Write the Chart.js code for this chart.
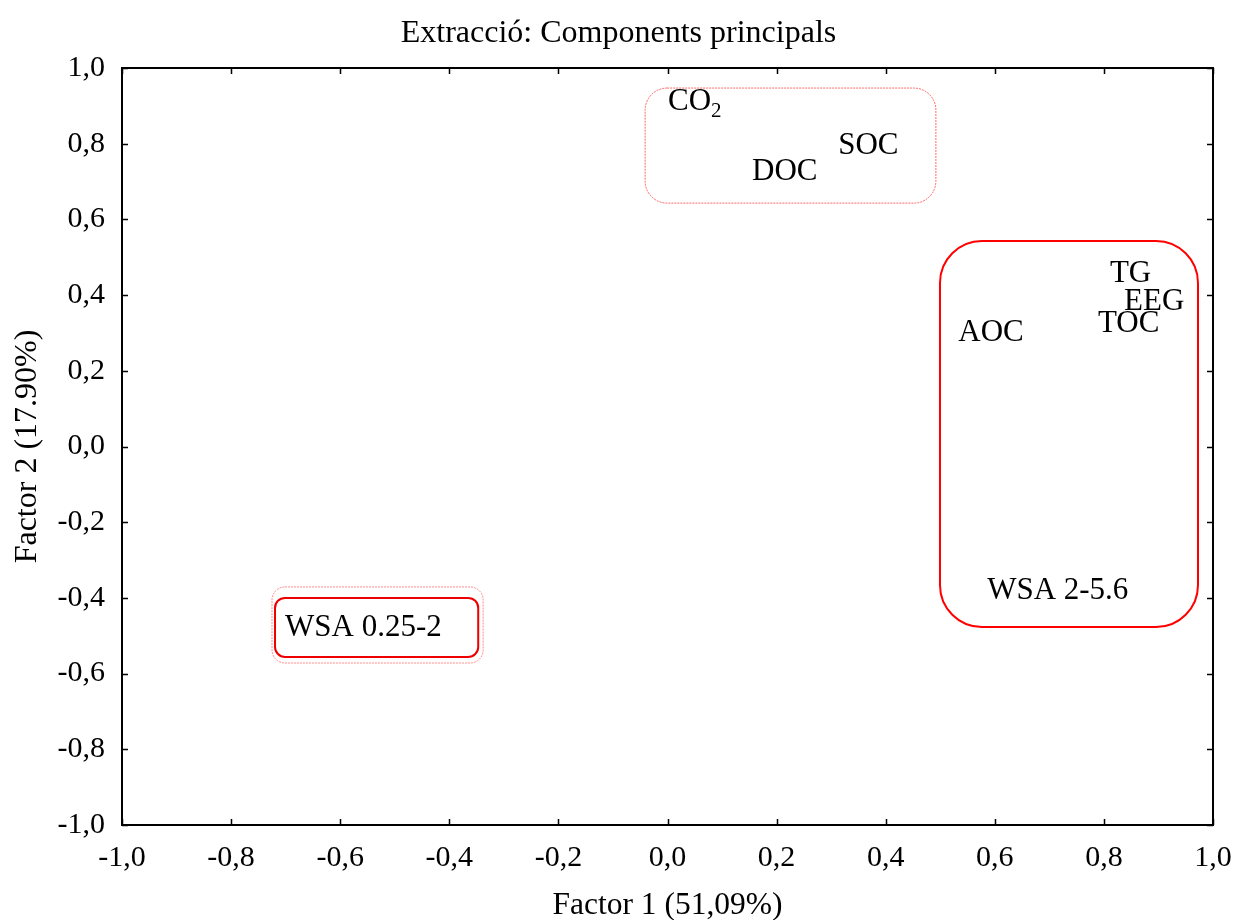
<!DOCTYPE html>
<html>
<head>
<meta charset="utf-8">
<script src="https://cdn.jsdelivr.net/npm/chart.js@4/dist/chart.umd.min.js"></script>
<style>
  html, body { margin: 0; padding: 0; background: #ffffff; }
  #wrap { width: 1237px; height: 920px; }
</style>
</head>
<body>
<div id="wrap"><canvas id="c" width="1237" height="920"></canvas></div>
<script>
// ---- data ----
const labels = ['CO', 'DOC', 'SOC', 'TG', 'EEG', 'TOC', 'AOC', 'WSA 2-5.6', 'WSA 0.25-2'];
const labelSubs = ['2', '', '', '', '', '', '', '', ''];
const factor1 = [0.001, 0.155, 0.313, 0.811, 0.837, 0.789, 0.533, 0.586, -0.701];
const factor2 = [0.910, 0.725, 0.794, 0.456, 0.382, 0.324, 0.300, -0.382, -0.480];
const tickValues = [-1.0, -0.8, -0.6, -0.4, -0.2, 0.0, 0.2, 0.4, 0.6, 0.8, 1.0];
const titleText = 'Extracció: Components principals';
const xTitle = 'Factor 1 (51,09%)';
const yTitle = 'Factor 2 (17.90%)';
// group boxes in data units: [xMin, xMax, yMin, yMax]
const boxTop = [-0.041, 0.492, 0.643, 0.947];
const boxRight = [0.4995, 0.9725, -0.477, 0.543];
const boxLeftInner = [-0.7195, -0.347, -0.556, -0.400];
const boxLeftOuter = [-0.725, -0.338, -0.572, -0.371];

const FONT = "'Liberation Serif', 'Times New Roman', serif";
const fmt = v => { const s = Math.abs(v).toFixed(1).replace('.', ','); return (v < -1e-9 ? '-' : '') + s; };

function roundRect(ctx, x, y, w, h, r) {
  r = Math.min(r, w / 2, h / 2);
  ctx.beginPath();
  ctx.moveTo(x + r, y);
  ctx.lineTo(x + w - r, y);
  ctx.arcTo(x + w, y, x + w, y + r, r);
  ctx.lineTo(x + w, y + h - r);
  ctx.arcTo(x + w, y + h, x + w - r, y + h, r);
  ctx.lineTo(x + r, y + h);
  ctx.arcTo(x, y + h, x, y + h - r, r);
  ctx.lineTo(x, y + r);
  ctx.arcTo(x, y, x + r, y, r);
  ctx.closePath();
}

const decor = {
  id: 'decor',
  afterDatasetsDraw(chart) {
    const ctx = chart.ctx, xs = chart.scales.x, ys = chart.scales.y, a = chart.chartArea;
    ctx.save();
    const drawBox = (b, color, lw, r, dash) => {
      const x1 = xs.getPixelForValue(b[0]), x2 = xs.getPixelForValue(b[1]);
      const y1 = ys.getPixelForValue(b[3]), y2 = ys.getPixelForValue(b[2]);
      ctx.strokeStyle = color; ctx.lineWidth = lw;
      ctx.setLineDash(dash || []);
      roundRect(ctx, x1, y1, x2 - x1, y2 - y1, r);
      ctx.stroke();
    };
    drawBox(boxTop, 'rgba(255,80,80,0.85)', 1, 22, [2, 1]);
    drawBox(boxRight, '#ff0000', 2, 42);
    drawBox(boxLeftOuter, 'rgba(255,100,100,0.75)', 1, 13, [2, 1]);
    drawBox(boxLeftInner, '#ee0000', 2, 10);
    ctx.setLineDash([]);
    // point labels
    ctx.fillStyle = '#000';
    ctx.textBaseline = 'middle';
    ctx.textAlign = 'left';
    const meta = chart.getDatasetMeta(0);
    meta.data.forEach((pt, i) => {
      ctx.font = '31px ' + FONT;
      ctx.fillText(labels[i], pt.x, pt.y);
      if (labelSubs[i]) {
        const w = ctx.measureText(labels[i]).width;
        ctx.font = '21px ' + FONT;
        ctx.fillText(labelSubs[i], pt.x + w, pt.y + 9);
      }
    });
    // frame
    ctx.strokeStyle = '#000'; ctx.lineWidth = 2;
    ctx.strokeRect(a.left, a.top, a.right - a.left, a.bottom - a.top);
    // inward ticks on all four sides
    ctx.lineWidth = 1.5;
    const tl = 6;
    xs.ticks.forEach(t => {
      const px = Math.round(xs.getPixelForValue(t.value)) + 0.5;
      ctx.beginPath();
      ctx.moveTo(px, a.bottom); ctx.lineTo(px, a.bottom - tl);
      ctx.moveTo(px, a.top); ctx.lineTo(px, a.top + tl);
      ctx.stroke();
    });
    ys.ticks.forEach(t => {
      const py = Math.round(ys.getPixelForValue(t.value)) + 0.5;
      ctx.beginPath();
      ctx.moveTo(a.left, py); ctx.lineTo(a.left + tl, py);
      ctx.moveTo(a.right, py); ctx.lineTo(a.right - tl, py);
      ctx.stroke();
    });
    ctx.restore();
  }
};

const axisCommon = {
  type: 'linear',
  min: -1, max: 1,
  grid: { display: false, drawTicks: false },
  border: { display: false },
};

new Chart(document.getElementById('c'), {
  type: 'scatter',
  data: {
    datasets: [{
      data: factor1.map((x, i) => ({ x: x, y: factor2[i] })),
      pointRadius: 0,
      pointHoverRadius: 0,
      showLine: false
    }]
  },
  options: {
    responsive: false,
    animation: false,
    events: [],
    layout: { padding: { left: 0, right: 0, top: 0, bottom: 0 } },
    plugins: {
      legend: { display: false },
      tooltip: { enabled: false },
      title: {
        display: true,
        text: titleText,
        color: '#000',
        font: { family: FONT, size: 32, weight: 'normal', lineHeight: 1.2 },
        padding: { top: 14, bottom: 15.6 }
      }
    },
    scales: {
      x: Object.assign({}, axisCommon, {
        position: 'bottom',
        afterBuildTicks: s => { s.ticks = tickValues.map(v => ({ value: v })); },
        afterFit: s => { s.height = 95; s.paddingLeft = 0; s.paddingRight = 24; },
        ticks: {
          color: '#000', padding: 15, maxRotation: 0, autoSkip: false,
          font: { family: FONT, size: 30 },
          callback: v => fmt(v)
        },
        title: {
          display: true, text: xTitle, color: '#000',
          font: { family: FONT, size: 31.5, lineHeight: 0.9 },
          padding: { top: 0, bottom: 0 }
        }
      }),
      y: Object.assign({}, axisCommon, {
        position: 'left',
        afterBuildTicks: s => { s.ticks = tickValues.map(v => ({ value: v })); },
        afterFit: s => { s.width = 122; s.paddingTop = 0; s.paddingBottom = 0; },
        ticks: {
          color: '#000', padding: 17, autoSkip: false,
          font: { family: FONT, size: 30 },
          callback: v => fmt(v)
        },
        title: {
          display: true, text: yTitle, color: '#000',
          font: { family: FONT, size: 32, lineHeight: 1.2 },
          padding: { top: 8, bottom: 0 }
        }
      })
    }
  },
  plugins: [decor]
});
</script>
</body>
</html>
